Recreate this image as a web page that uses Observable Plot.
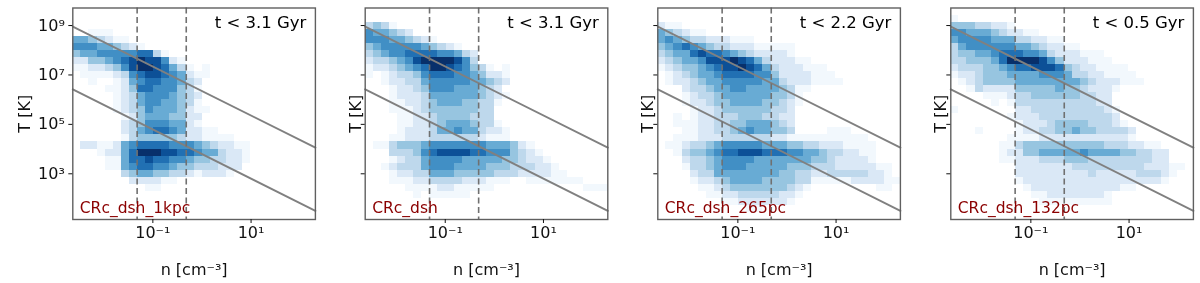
<!DOCTYPE html>
<html>
<head>
<meta charset="utf-8">
<script src="https://cdn.jsdelivr.net/npm/d3@7"></script>
<script src="https://cdn.jsdelivr.net/npm/@observablehq/plot@0.6"></script>
<style>
html,body{margin:0;padding:0;background:#fff;width:1200px;height:283px;overflow:hidden}
#c{position:relative;width:1200px;height:283px}
#c svg{position:absolute;left:0;top:0;background:none;filter:blur(0.45px)}
</style>
</head>
<body>
<div id="c"></div>
<script>
const panelNames = ["CRc_dsh_1kpc", "CRc_dsh", "CRc_dsh_265pc", "CRc_dsh_132pc"];
const timeLabels = ["t < 3.1 Gyr", "t < 3.1 Gyr", "t < 2.2 Gyr", "t < 0.5 Gyr"];
const frameLeft = [72.3, 364.7, 657.3, 950.3];
const nDomain = [10 ** -2.63, 10 ** 2.31];
const tDomain = [10 ** 1.15, 10 ** 9.71];
const nTicks = [0.1, 10];
const nTickLabels = ["10⁻¹", "10¹"];
const tTicks = [1e3, 1e5, 1e7, 1e9];
const tTickLabels = ["10³", "10⁵", "10⁷", "10⁹"];
const densityCuts = [10 ** -1.32, 10 ** -0.32];
const upperLineN = [10 ** -2.63, 10 ** 2.31];
const upperLineT = [10 ** 8.96, 10 ** 4.06];
const lowerLineN = [10 ** -2.63, 10 ** 2.31];
const lowerLineT = [10 ** 6.42, 10 ** 1.5];

// density level per histogram bin, top row first; 30 columns, 30 rows
const grid1 = ["","","","00111","5543211","666554321","455666667731","22445678988621","11223468998753101","01111236788765211","0010012567766532","0000112477666431","0000012356665432","0000012356655431","00000123465554211","0000001245554422","0000002346665521","000000235677652211","00000013444443221111","0221125677776665432211","0001225799988776553221","0000115778776654433221","000011567766544333222","00000034554433212221","0000000222211","00000000011"];
const grid2 = ["","","3431","655432","666554321","45666665432 1".replace(" ",""),"34566777766532","233456899998630","122345679987643101","1012334677766542210".slice(0,18),"001223356666655432 1".replace(" ","").slice(0,18),"00012234666555432","000122235555554321","00011223455544331","000111234444443 3".replace(" ",""),"00001122344443332".slice(0,16),"00001122345554331","000012223556553221","00011222333333211 1".replace(" ",""),"011344456666666555421","0003334678888776664321","00012335666655555443221","0012333566655554443332 21".replace(" ",""),"000122335554444433322 2211".replace(" ",""),"000111223333222111001111111","000001111221111100000000000111","00000010111110"];
const grid3 = ["","","211","543211","565433222111","4567654332221 1111".replace(" ",""),"34557877654322221","234556888987532221 1".replace(" ",""),"12344567889875322211 1".replace(" ",""),"0123455677776642222111","01223455666665532221111","000233455665555431 1".replace(" ",""),"00012334555555443 1".replace(" ",""),"00012234455554432 1".replace(" ",""),"00001223444444332","00101223334443322","001112233445554 32".replace(" ",""),"00011223345655443 0000111".replace(" ",""),"001112223333332 21111111111".replace(" ",""),"0112334566666 5554433 2221111".replace(/ /g,""),"00134456778887776655433221 11".replace(" ","").slice(0,27),"000233456666555555544322221 1".replace(" ","").slice(0,27),"000133456665555544433322222 11".replace(" ",""),"00002335555555544332233 33 3 2 2 1".replace(/ /g,""),"000012234555544443311111222 2111".replace(" ","").slice(0,30),"00000112344444443210000000011","0000001122333332210","00000000112222221","00000000000110"];
const grid4 = ["","1","44433221","66555432211","5666655533221 1".replace(" ",""),"35666666554322110010".slice(0,18),"344556777665322211 1".replace(" ",""),"3344457999986422211 1".replace(" ",""),"2333445677888743221111".slice(0,22),"12234445555666533221111","0123444455555555432221 11".replace(" ",""),"0013222244444544322 21".replace(" ",""),"000011123344444433221".slice(0,20),"00000101333333333322","1000000022333333333 21".replace(" ",""),"00000001222333333333 21".replace(" ","").slice(0,21),"0000000012223444433 321".replace(" ",""),"00010000122334454433332","000000011112222222222 211".replace(" ","").slice(0,23),"00000011344444444443332 2 11".replace(/ /g,""),"000000122445555565555443 3221".replace(" ","").slice(0,27),"0000001122233344433333333222 1".replace(" ","").slice(0,27),"000000002222222333333333222 11".replace(" ",""),"00000000222222222322222333 2 1".replace(/ /g,""),"000000001222222222222222221","000000000122222222222 11".replace(" ",""),"00000000001122222221 ".trim(),"0000000000011111111 1".replace(" ","")];

const grids = [grid1, grid2, grid3, grid4];
const nCols = 30, nRows = 30;

function cellsOf(grid) {
  const xs = Math.log10(nDomain[0]), xe = Math.log10(nDomain[1]);
  const ys = Math.log10(tDomain[1]), ye = Math.log10(tDomain[0]);
  const out = [];
  grid.forEach((row, r) => {
    [...row].forEach((ch, c) => {
      const v = +ch;
      if (v > 0 && c < nCols) out.push({
        n1: 10 ** (xs + (xe - xs) * c / nCols),
        n2: 10 ** (xs + (xe - xs) * (c + 1) / nCols),
        t1: 10 ** (ys + (ye - ys) * r / nRows),
        t2: 10 ** (ys + (ye - ys) * (r + 1) / nRows),
        v
      });
    });
  });
  return out;
}

const host = document.getElementById("c");
panelNames.forEach((name, i) => {
  const left = frameLeft[i];
  const first = i === 0;
  const plot = Plot.plot({
    width: 1200, height: 283,
    marginLeft: left, marginRight: 1200 - left - 242.6,
    marginTop: 7.5, marginBottom: 64,
    style: {fontFamily: "'DejaVu Sans'", fontSize: "16px", background: "transparent", color: "#111"},
    x: {type: "log", domain: nDomain},
    y: {type: "log", domain: tDomain},
    color: {type: "linear", scheme: "Blues", domain: [0.8, 9], clamp: true},
    marks: [
      Plot.rect(cellsOf(grids[i]), {x1: "n1", x2: "n2", y1: "t1", y2: "t2", fill: "v", shapeRendering: "crispEdges"}),
      Plot.line(upperLineN.map((n, k) => ({n, T: upperLineT[k]})), {x: "n", y: "T", stroke: "#808080", strokeWidth: 1.9}),
      Plot.line(lowerLineN.map((n, k) => ({n, T: lowerLineT[k]})), {x: "n", y: "T", stroke: "#808080", strokeWidth: 1.9}),
      Plot.ruleX(densityCuts, {stroke: "#707070", strokeWidth: 1.6, strokeDasharray: "6,3.5"}),
      Plot.frame({stroke: "#606060", strokeWidth: 1.4}),
      Plot.axisX({ticks: nTicks, tickFormat: d => nTickLabels[nTicks.indexOf(d)], tickSize: 4, tickPadding: 3, fontSize: 16,
        label: "n [cm⁻³]", labelAnchor: "center", labelArrow: "none", labelOffset: 55}),
      Plot.axisY({ticks: tTicks, tickFormat: first ? (d => tTickLabels[tTicks.indexOf(d)]) : (() => ""), tickSize: 4, tickPadding: 4, fontSize: 16,
        label: "T [K]", labelAnchor: "center", labelArrow: "none", labelOffset: first ? 54 : 16}),
      Plot.text([timeLabels[i]], {text: d => d, frameAnchor: "top-right", dx: -9, dy: 8, fontSize: 16.5, fill: "#000"}),
      Plot.text([name], {text: d => d, frameAnchor: "bottom-left", dx: 7, dy: -7, fontSize: 15.5, fill: "#8b0000"})
    ]
  });
  host.appendChild(plot);
});
</script>
</body>
</html>
